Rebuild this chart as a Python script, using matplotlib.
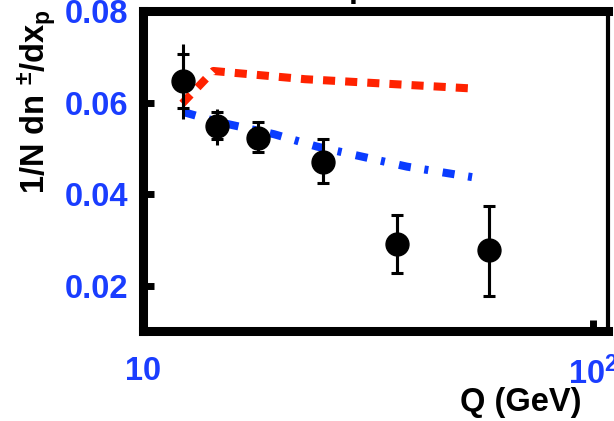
import matplotlib
matplotlib.use("Agg")
import matplotlib.pyplot as plt
import numpy as np

plt.rcParams['font.family'] = ['Liberation Sans', 'DejaVu Sans']
plt.rcParams['font.weight'] = 'bold'
plt.rcParams['mathtext.default'] = 'regular'

# measured points: centre-of-mass energy and mean multiplicity density
q_data = np.array([12.25, 14.6, 18.0, 25.1, 36.7, 58.8])
y_data = np.array([0.0648, 0.0548, 0.0523, 0.0471, 0.0292, 0.0277])
# statistical band (capped) and total band (uncapped)
stat_lo = np.array([0.0589, 0.0521, 0.0491, 0.0425, 0.0228, 0.0178])
stat_hi = np.array([0.0705, 0.0580, 0.0558, 0.0521, 0.0355, 0.0375])
tot_lo = np.array([0.0565, 0.0508, 0.0491, 0.0425, 0.0228, 0.0178])
tot_hi = np.array([0.0727, 0.0587, 0.0560, 0.0521, 0.0355, 0.0375])

# model curves
q_red = [12.2, 14.3, 22.9, 53.3]
y_red = [0.0598, 0.0669, 0.0651, 0.0631]
q_blue = [12.3, 14.6, 19.5, 24.3, 38.6, 54.0]
y_blue = [0.0579, 0.0558, 0.0531, 0.0504, 0.0460, 0.0437]

x_ticks = [10, 100]
x_tick_labels = ['10', '10$^{2}$']
y_ticks = [0.02, 0.04, 0.06, 0.08]
y_tick_labels = ['0.02', '0.04', '0.06', '0.08']

label_blue = '#1a3dff'
fs = 23.5

fig = plt.figure(figsize=(6.14, 4.21), dpi=100)
ax = fig.add_axes([0.2337, 0.2126, 0.990 - 0.2337, 0.9739 - 0.2126])

ax.plot(q_red, y_red, color='#ff2200', lw=5.8, dashes=(1.5, 1.25),
        solid_capstyle='butt', dash_capstyle='butt', zorder=2)
ax.plot(q_blue, y_blue, color='#0a3cff', lw=5.8, dashes=(1.5, 1.7, 0.5, 1.8),
        dash_capstyle='butt', zorder=2)

ax.errorbar(q_data, y_data, yerr=[y_data - tot_lo, tot_hi - y_data],
            fmt='none', ecolor='black', elinewidth=2.2, capsize=0, zorder=3)
ax.errorbar(q_data, y_data, yerr=[y_data - stat_lo, stat_hi - y_data],
            fmt='o', color='black', ms=16.5, elinewidth=2.2, capsize=4.3,
            capthick=2.2, zorder=4)

ax.set_xscale('log')
ax.set_xlim(10, 108)
ax.set_ylim(0.01, 0.08)

ax.set_xticks(x_ticks)
ax.set_xticklabels(x_tick_labels)
ax.set_yticks(y_ticks)
ax.set_yticklabels(y_tick_labels)
ax.xaxis.set_minor_locator(matplotlib.ticker.LogLocator(base=10, subs=np.arange(2, 10)))
ax.xaxis.set_minor_formatter(matplotlib.ticker.NullFormatter())

ax.tick_params(axis='both', which='major', direction='in', length=8, width=5,
               labelsize=fs, labelcolor=label_blue, color='black')
ax.tick_params(axis='y', which='major', pad=11)
ax.tick_params(axis='x', which='major', pad=18)
ax.tick_params(axis='x', which='minor', direction='in', length=2, width=2, color='#555555')
ax.tick_params(axis='y', which='minor', left=False)

for side in ['left', 'bottom', 'top']:
    ax.spines[side].set_linewidth(6.5)
ax.spines['right'].set_linewidth(3)

fig.text(582 / 614, 1 - 403 / 421, 'Q (GeV)', ha='right', va='center',
         fontsize=fs, fontweight='bold', color='black')
fig.text(37 / 614, 1 - 102 / 421, '1/N dn $^{\\pm}$/dx$_{p}$', rotation=90,
         ha='center', va='center', fontsize=fs, fontweight='bold', color='black')
# title line sits mostly above the figure edge
fig.text(349 / 614, 1 + 3 / 421, 'p', ha='left', va='baseline',
         fontsize=fs, fontweight='bold', color='black')

fig.savefig('out.png', dpi=100)
